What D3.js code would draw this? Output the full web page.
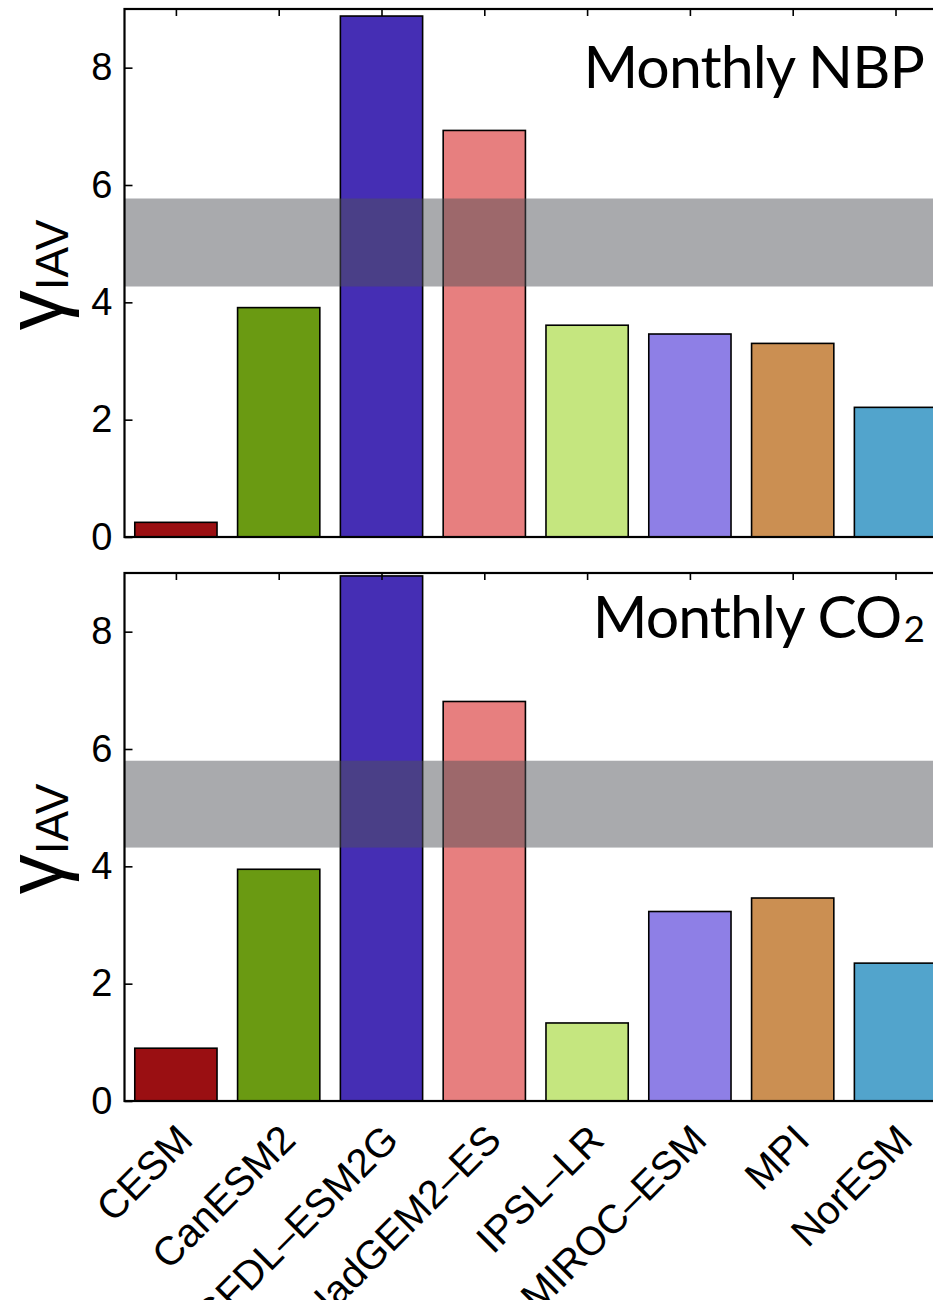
<!DOCTYPE html>
<html>
<head>
<meta charset="utf-8">
<script src="https://cdn.jsdelivr.net/npm/d3@7"></script>
<style>
  html, body { margin: 0; padding: 0; background: #fff; }
  svg { display: block; }
</style>
</head>
<body>
<svg id="chart" width="933" height="1300"></svg>
<script>
// ---- data ----
const models = ["CESM", "CanESM2", "GFDL–ESM2G", "HadGEM2–ES", "IPSL–LR", "MIROC–ESM", "MPI", "NorESM"];
const colors = ["#9a0f12", "#6a9a12", "#452eb4", "#e77f7f", "#c5e67f", "#8e7fe6", "#cb8f52", "#52a4cc"];
const nbpValues = [0.25, 3.91, 8.88, 6.93, 3.61, 3.46, 3.30, 2.21];
const co2Values = [0.90, 3.95, 8.95, 6.81, 1.33, 3.23, 3.46, 2.35];
const nbpBand = [4.27, 5.77];
const co2Band = [4.32, 5.80];
const yTicks = [0, 2, 4, 6, 8];

const svg = d3.select("#chart");

const x = d3.scaleLinear().domain([0.5, 8.5]).range([124.5, 946.9]);
const step = x(2) - x(1);
const barW = step * 0.8;

const panels = [
  { values: nbpValues, band: nbpBand, top: 9, bottom: 537, title: ["Monthly NBP", null], titleY: 88, labels: false },
  { values: co2Values, band: co2Band, top: 573, bottom: 1101, title: ["Monthly CO", "2"], titleY: 638, labels: true }
];

panels.forEach(p => {
  const y = d3.scaleLinear().domain([0, 9]).range([p.bottom, p.top]);
  const g = svg.append("g");

  // bars
  g.selectAll("rect.bar").data(p.values).join("rect")
    .attr("class", "bar")
    .attr("x", (d, i) => x(i + 1) - barW / 2)
    .attr("width", barW)
    .attr("y", d => y(d))
    .attr("height", d => y(0) - y(d))
    .attr("fill", (d, i) => colors[i])
    .attr("stroke", "#000")
    .attr("stroke-width", 1.6);

  // gray band (semi-transparent, on top of bars)
  g.append("rect")
    .attr("x", x(0.5))
    .attr("width", x(8.5) - x(0.5))
    .attr("y", y(p.band[1]))
    .attr("height", y(p.band[0]) - y(p.band[1]))
    .attr("fill", "rgb(80,82,88)")
    .attr("fill-opacity", 0.49);

  // title
  const t = g.append("text")
    .attr("x", 924)
    .attr("y", p.titleY)
    .attr("text-anchor", "end")
    .attr("font-family", "Lato, 'Open Sans', sans-serif")
    .attr("font-size", 59)
    .attr("letter-spacing", -0.9)
    .attr("fill", "#000");
  t.append("tspan").text(p.title[0]);
  if (p.title[1]) {
    t.append("tspan").attr("font-size", 37).attr("dx", 2).attr("dy", 4).text(p.title[1]);
  }

  // y axis
  const ya = g.append("g")
    .attr("transform", `translate(${x(0.5)},0)`)
    .call(d3.axisLeft(y).tickValues(yTicks).tickFormat(d3.format("d")).tickSizeInner(-8).tickSizeOuter(0).tickPadding(12));
  ya.select(".domain").remove();
  ya.selectAll(".tick line").attr("stroke", "#000").attr("stroke-width", 1.6);
  ya.selectAll(".tick text")
    .attr("font-family", "'Liberation Sans', Arial, sans-serif")
    .attr("font-size", 38)
    .attr("fill", "#000");

  // top ticks
  const xa = g.append("g")
    .attr("transform", `translate(0,${p.top})`)
    .call(d3.axisTop(x).tickValues(d3.range(1, models.length + 1)).tickFormat("").tickSizeInner(-7).tickSizeOuter(0));
  xa.select(".domain").remove();
  xa.selectAll(".tick line").attr("stroke", "#000").attr("stroke-width", 1.6);

  // frame
  g.append("rect")
    .attr("x", x(0.5))
    .attr("y", p.top)
    .attr("width", x(8.5) - x(0.5))
    .attr("height", p.bottom - p.top)
    .attr("fill", "none")
    .attr("stroke", "#000")
    .attr("stroke-width", 2.2);

  // y label: gamma with IAV subscript
  const yl = g.append("text")
    .attr("transform", `translate(62,${(p.top + p.bottom) / 2 + 2}) rotate(-90)`)
    .attr("text-anchor", "middle")
    .attr("font-family", "'Liberation Sans', Arial, sans-serif")
    .attr("fill", "#000");
  yl.append("tspan").attr("font-size", 80).text("γ");
  yl.append("tspan").attr("font-size", 46).attr("dy", 6).text("IAV");

  // x labels
  if (p.labels) {
    g.selectAll("text.xl").data(models).join("text")
      .attr("class", "xl")
      .attr("transform", (d, i) => `translate(${x(i + 1) + 19},${p.bottom + 41}) rotate(-45)`)
      .attr("text-anchor", "end")
      .attr("font-family", "'Liberation Sans', Arial, sans-serif")
      .attr("font-size", 40)
      .attr("fill", "#000")
      .text(d => d);
  }
});
</script>
</body>
</html>
